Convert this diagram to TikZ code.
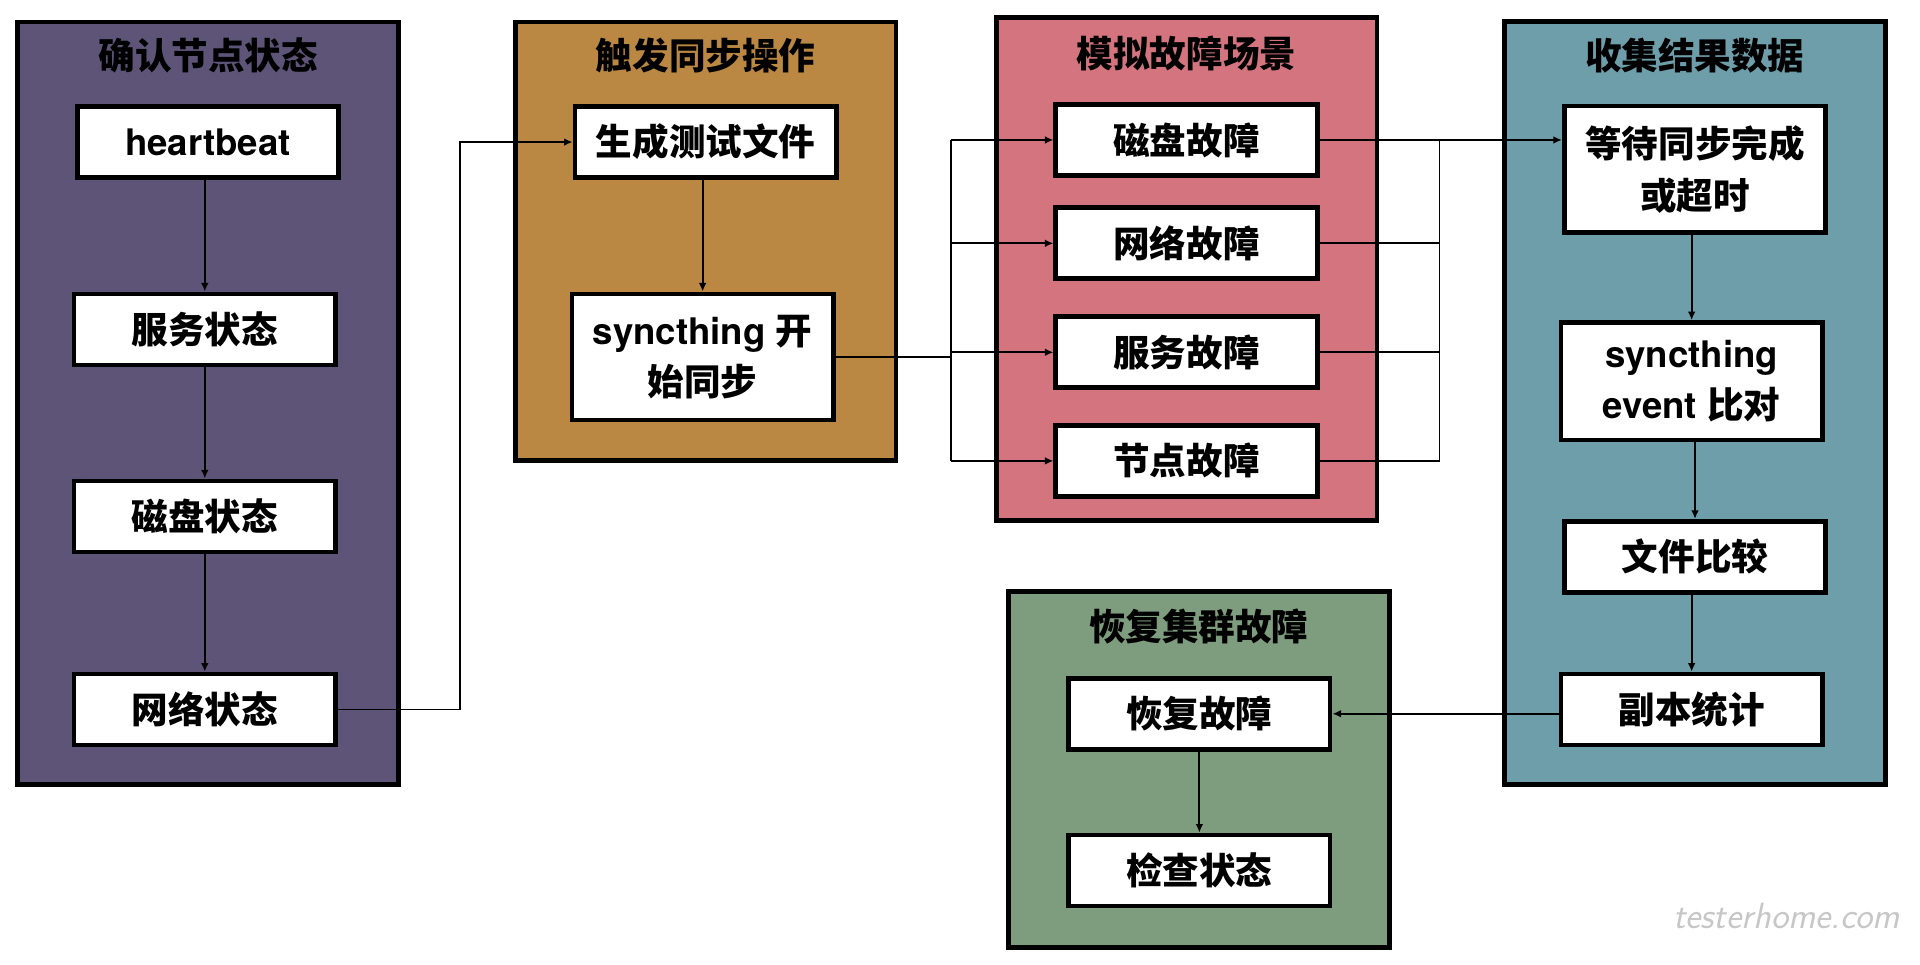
\documentclass[tikz,border=0pt]{standalone}
\usepackage{fontspec}
\setmainfont{TeX Gyre Heros}
\newfontfamily\cjk{Noto Sans CJK SC}
\newcommand{\zh}[1]{{\cjk #1}}
\usetikzlibrary{arrows.meta}

\tikzset{
	box/.style={draw=black, line width=2.2pt, fill=white, minimum width=4.27cm, minimum height=1.16cm, inner sep=0pt, align=center, font=\bfseries\fontsize{17}{24}\selectfont},
	panel/.style={draw=black, line width=2.2pt, minimum width=6.22cm, inner sep=0pt},
	title/.style={font=\cjk\bfseries\fontsize{17}{24}\selectfont},
	wire/.style={line width=0.9pt},
	link/.style={wire, -{Latex[length=4pt,width=3.6pt]}},
	wmark/.style={text=black!22, font=\sffamily\itshape\fontsize{17}{20}\selectfont}
}

\begin{document}
\begin{tikzpicture}[x=0.02cm, y=-0.02cm]
			\definecolor{grpA}{HTML}{5E5478}
			\definecolor{grpB}{HTML}{BA8842}
			\definecolor{grpC}{HTML}{D4747F}
			\definecolor{grpD}{HTML}{6E9EAA}
			\definecolor{grpE}{HTML}{7E9C7E}
			\useasboundingbox (0,0) rectangle (1568,788);
			% Gruppen
			\node[panel, fill=grpA, minimum height=12.45cm] (pA) at (170,329.2) {};
			\node[panel, fill=grpB, minimum height=7.16cm] (pB) at (576.25,197) {};
			\node[panel, fill=grpC, minimum height=8.22cm] (pC) at (969,219.6) {};
			\node[panel, fill=grpD, minimum height=12.46cm] (pD) at (1384.1,329) {};
			\node[panel, fill=grpE, minimum height=5.81cm] (pE) at (979,628.5) {};
			% Titel
			\node[title] (tA) at (170,45.6) {确认节点状态};
			\node[title] (tB) at (576.25,45.6) {触发同步操作};
			\node[title] (tC) at (969,43.5) {模拟故障场景};
			\node[title] (tD) at (1384.1,45.6) {收集结果数据};
			\node[title] (tE) at (979,511.6) {恢复集群故障};
			% Knotenstatus
			\node[box] (hb) at (169.75,116) {heartbeat};
			\node[box] (svc) at (167.25,269) {\zh{服务状态}};
			\node[box] (disk) at (167.25,421.7) {\zh{磁盘状态}};
			\node[box] (net) at (167.25,579.4) {\zh{网络状态}};
			% Sync
			\node[box] (gen) at (576.3,116) {\zh{生成测试文件}};
			\node[box, minimum height=2.06cm] (sync) at (573.8,291.5) {syncthing \zh{开}\\\zh{始同步}};
			% Fehler
			\node[box] (fD) at (969,114.3) {\zh{磁盘故障}};
			\node[box] (fN) at (969,198.7) {\zh{网络故障}};
			\node[box] (fS) at (969,287.7) {\zh{服务故障}};
			\node[box] (fH) at (969,376.4) {\zh{节点故障}};
			% Ergebnisse
			\node[box, minimum height=2.07cm] (wait) at (1384.25,138.2) {\zh{等待同步完成}\\\zh{或超时}};
			\node[box, minimum height=1.92cm] (evt) at (1381.5,311.4) {syncthing\\event \zh{比对}};
			\node[box] (cmp) at (1384.25,454.7) {\zh{文件比较}};
			\node[box] (cnt) at (1381.5,579.5) {\zh{副本统计}};
			% Wiederherstellung
			\node[box] (rec) at (979.5,582.9) {\zh{恢复故障}};
			\node[box] (chk) at (979.5,710.9) {\zh{检查状态}};
			% Hilfspunkte
			\coordinate (jA) at (375.7,0);
			\coordinate (jB) at (776.6,0);
			\coordinate (jC) at (1175.6,0);

			% Verbindungen Knotenstatus
			\draw[link] (hb.south -| svc.north) -- (svc.north);
			\draw[link] (svc) -- (disk);
			\draw[link] (disk) -- (net);
			\draw[link] (net.east) -- (net.east -| jA) |- (gen.west);
			% Verbindungen Sync
			\draw[link] (gen.south -| sync.north) -- (sync.north);
			\draw[wire] (sync.east) -- (sync.east -| jB);
			\draw[wire] (jB |- fD.west) -- (jB |- fH.west);
			\draw[link] (jB |- fD.west) -- (fD.west);
			\draw[link] (jB |- fN.west) -- (fN.west);
			\draw[link] (jB |- fS.west) -- (fS.west);
			\draw[link] (jB |- fH.west) -- (fH.west);
			% Verbindungen Fehler
			\draw[link] (fD.east) -- (fD.east -| wait.west);
			\draw[wire] (jC |- fD.east) -- (jC |- fH.east);
			\draw[wire] (fN.east) -- (fN.east -| jC);
			\draw[wire] (fS.east) -- (fS.east -| jC);
			\draw[wire] (fH.east) -- (fH.east -| jC);
			% Verbindungen Ergebnisse
			\draw[link] (wait.south -| evt.north) -- (evt.north);
			\draw[link] (evt.south -| cmp.north) -- (cmp.north);
			\draw[link] (cmp.south -| cnt.north) -- (cnt.north);
			\draw[link] (rec.east -| cnt.west) -- (rec.east);
			\draw[link] (rec) -- (chk);

			\node[wmark] (wm) at (1459,748) {testerhome.com};
\end{tikzpicture}
\end{document}
